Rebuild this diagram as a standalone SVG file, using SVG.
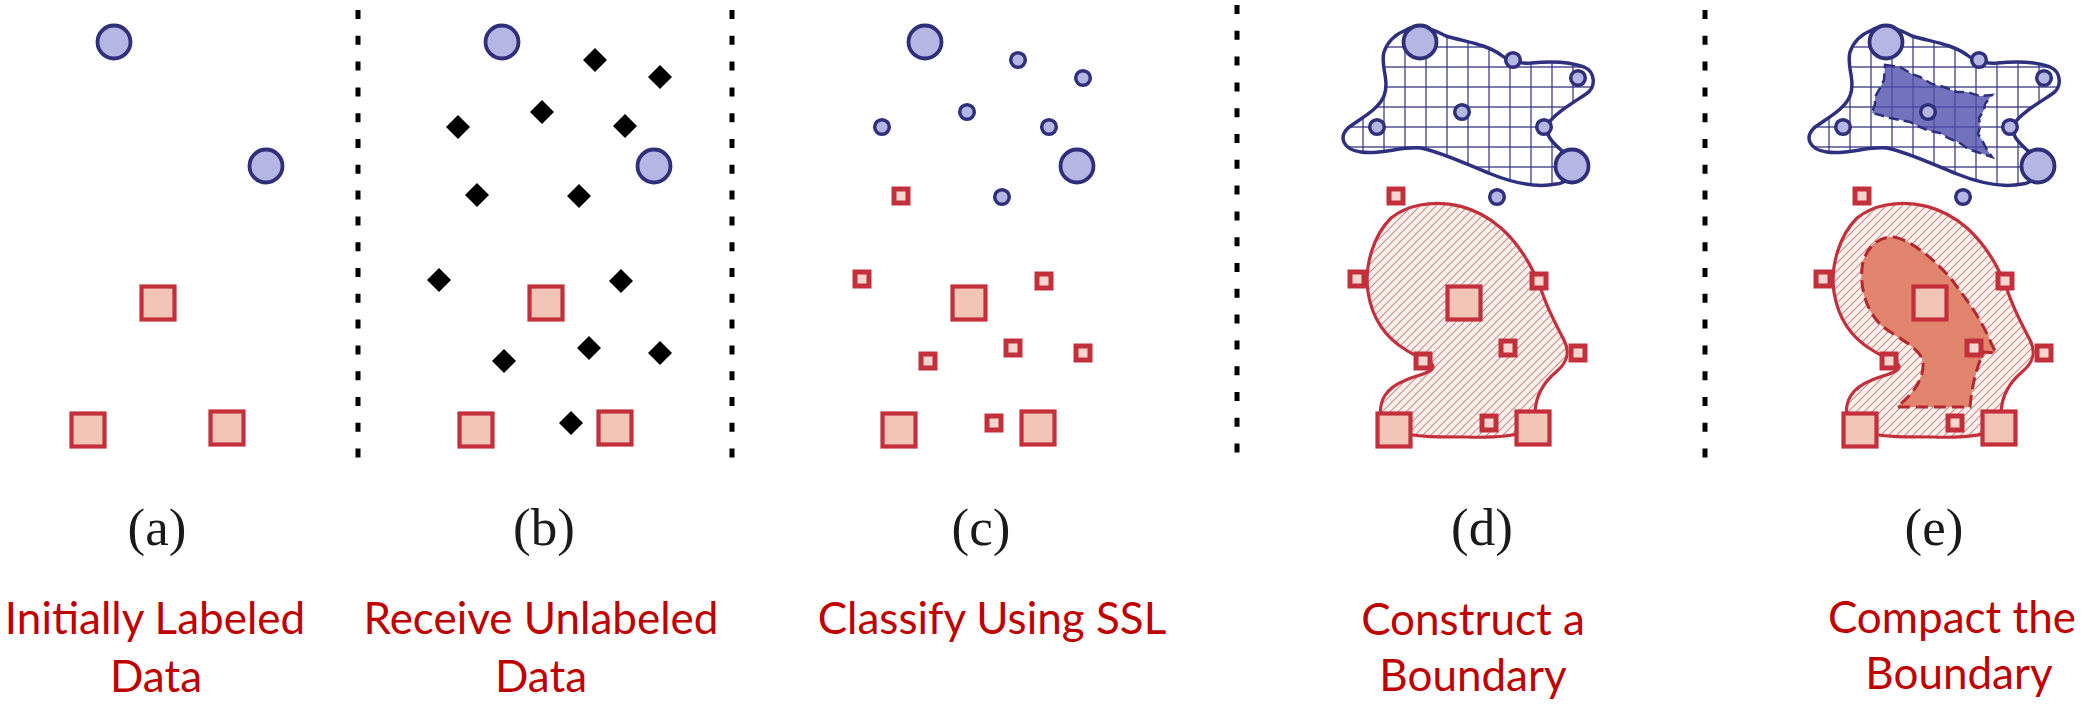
<svg xmlns="http://www.w3.org/2000/svg" xmlns:xlink="http://www.w3.org/1999/xlink" width="2087" height="707" viewBox="0 0 2087 707">
<style>
.bigc{fill:#b6b6e4;stroke:#2f2f7c;stroke-width:3.8}
.smc{fill:#b6b6e4;stroke:#2f2f7c;stroke-width:3.5}
.bigs{fill:#f2c5b7;stroke:#c3303c;stroke-width:4.2}
.sms{fill:#f7d6cf;stroke:#c3303c;stroke-width:5}
.dia{fill:#000}
.sep{stroke:#000;stroke-width:5;stroke-dasharray:9 16.8;fill:none}
.cap{font-family:"Liberation Serif","Times New Roman",serif;font-size:53px;fill:#1a1a1a;text-anchor:middle}
.lbl{font-family:Lato,"Open Sans",sans-serif;font-size:44px;fill:#C00000;text-anchor:middle}
.blueline{fill:none;stroke:#2f2f80;stroke-width:3.5}
.redline{fill:none;stroke:#c3303c;stroke-width:3.2}
</style>
<defs>
<circle id="bc" class="bigc" r="16.5"/>
<circle id="sc" class="smc" r="7.3"/>
<rect id="bs" class="bigs" x="-16.5" y="-16.5" width="33" height="33"/>
<rect id="ss" class="sms" x="-7" y="-7" width="14" height="14"/>
<path id="dm" class="dia" d="M0,-12 L12,0 L0,12 L-12,0Z"/>
<pattern id="grid" patternUnits="userSpaceOnUse" x="14" y="6" width="21" height="20">
<path d="M0,1 H21" stroke="#5a5a98" stroke-width="1.6"/>
<path d="M1,0 V20" stroke="#2f2f80" stroke-width="1.2"/>
</pattern>
<pattern id="hatch" patternUnits="userSpaceOnUse" width="8" height="8">
<path d="M-2,2 L2,-2 M0,8 L8,0 M6,10 L10,6" stroke="#c98c8c" stroke-width="1.1"/>
</pattern>
<path id="blueBlob" d="M100,30 C110,24 125,28 140,36 C160,42 180,44 195,55 C202,61 212,64 225,63 C245,61 265,62 278,67 C290,72 290,88 280,94 C265,104 248,114 242,124 C238,134 246,142 255,150 C268,160 270,182 250,184 C230,188 205,182 185,174 C160,164 135,152 115,148 C95,146 75,155 55,152 C38,150 32,138 42,128 C55,118 72,110 78,96 C84,80 74,66 78,52 C82,40 90,34 100,30 Z"/>
<path id="redBlob" d="M114,205 C140,200 170,206 195,228 C215,246 228,270 236,292 C242,310 250,325 258,340 C264,352 262,362 250,372 C238,382 230,395 229,412 L229,428 C215,436 190,438 160,437 C130,437 110,437 90,432 L75,420 C72,400 80,388 100,380 C115,374 128,372 127,366 C125,360 112,358 100,350 C80,338 66,318 62,292 C58,265 68,235 85,218 C95,210 104,207 114,205 Z"/>
<g id="labeledSet">
<use xlink:href="#bc" x="114" y="42"/>
<use xlink:href="#bc" x="266" y="166"/>
<use xlink:href="#bs" x="158" y="303"/>
<use xlink:href="#bs" x="88" y="430"/>
<use xlink:href="#bs" x="227" y="428"/>
</g>
<g id="classifiedSet">
<use xlink:href="#sc" x="207" y="60"/>
<use xlink:href="#sc" x="272" y="78"/>
<use xlink:href="#sc" x="156" y="112"/>
<use xlink:href="#sc" x="71" y="127"/>
<use xlink:href="#sc" x="238" y="127"/>
<use xlink:href="#sc" x="191" y="197"/>
<use xlink:href="#ss" x="90" y="196"/>
<use xlink:href="#ss" x="51" y="279"/>
<use xlink:href="#ss" x="233" y="281"/>
<use xlink:href="#ss" x="117" y="361"/>
<use xlink:href="#ss" x="202" y="348"/>
<use xlink:href="#ss" x="272" y="353"/>
<use xlink:href="#ss" x="183" y="423"/>
</g>
<g id="boundaries">
<use xlink:href="#blueBlob" fill="#ffffff"/>
<use xlink:href="#blueBlob" fill="url(#grid)"/>
<use xlink:href="#blueBlob" class="blueline"/>
<use xlink:href="#redBlob" fill="#fcf0ed"/>
<use xlink:href="#redBlob" fill="url(#hatch)"/>
<use xlink:href="#redBlob" class="redline"/>
</g>
</defs>

<g id="separators">
<line class="sep" x1="358" y1="10" x2="358" y2="458"/>
<line class="sep" x1="732" y1="10" x2="732" y2="458"/>
<line class="sep" x1="1237" y1="5" x2="1237" y2="453"/>
<line class="sep" x1="1705" y1="10" x2="1705" y2="458"/>
</g>

<g id="panel-a">
<use xlink:href="#labeledSet"/>
</g>

<g id="panel-b" transform="translate(388,0)">
<use xlink:href="#dm" x="207" y="60"/>
<use xlink:href="#dm" x="272" y="77"/>
<use xlink:href="#dm" x="154" y="112"/>
<use xlink:href="#dm" x="70" y="127"/>
<use xlink:href="#dm" x="237" y="126"/>
<use xlink:href="#dm" x="89" y="195"/>
<use xlink:href="#dm" x="191" y="196"/>
<use xlink:href="#dm" x="51" y="280"/>
<use xlink:href="#dm" x="233" y="281"/>
<use xlink:href="#dm" x="201" y="348"/>
<use xlink:href="#dm" x="272" y="353"/>
<use xlink:href="#dm" x="116" y="361"/>
<use xlink:href="#dm" x="183" y="423"/>
<use xlink:href="#labeledSet"/>
</g>

<g id="panel-c" transform="translate(811,0)">
<use xlink:href="#classifiedSet"/>
<use xlink:href="#labeledSet"/>
</g>

<g id="panel-d" transform="translate(1306,0)">
<use xlink:href="#boundaries"/>
<use xlink:href="#classifiedSet"/>
<use xlink:href="#labeledSet"/>
</g>

<g id="panel-e" transform="translate(1772,0)">
<use xlink:href="#boundaries"/>
<path d="M113,65 L128,67 L140,74 L148,77 L160,84 L172,87 L185,92 L195,92 L208,96 L220,95 L213,104 L212,110 L207,118 L208,127 L206,134 L210,140 L214,148 L220,157 L205,152 L196,149 L188,143 L176,138 L168,133 L158,131 L148,127 L138,122 L128,120 L118,118 L108,115 L100,113 L103,104 L103,97 L108,88 L112,80 Z" fill="#4b4baa" fill-opacity="0.78" stroke="#2f2f80" stroke-width="2.5" stroke-dasharray="10 5"/>
<path id="innerRed" d="M122,237 C140,240 165,262 180,280 C195,300 210,320 220,345 L224,353 L212,352 C205,365 200,385 198,407 L125,407 C140,395 152,380 151,363 C150,348 125,338 110,326 C95,312 88,290 90,268 C92,250 105,236 122,237 Z" fill="#e0846e" fill-opacity="0.9"/>
<use xlink:href="#innerRed" fill="url(#hatch)" fill-opacity="1"/>
<use xlink:href="#innerRed" fill="none" stroke="#b3282f" stroke-width="3" stroke-dasharray="12 6"/>
<use xlink:href="#classifiedSet"/>
<use xlink:href="#labeledSet"/>
</g>

<g id="captions">
<text class="cap" x="157" y="545">(a)</text>
<text class="cap" x="544" y="545">(b)</text>
<text class="cap" x="981" y="545">(c)</text>
<text class="cap" x="1482" y="545">(d)</text>
<text class="cap" x="1934" y="545">(e)</text>
</g>

<g id="labels">
<text class="lbl" x="155" y="634">Initially Labeled</text>
<text class="lbl" x="156" y="692">Data</text>
<text class="lbl" x="541" y="634">Receive Unlabeled</text>
<text class="lbl" x="541" y="692">Data</text>
<text class="lbl" x="992" y="634">Classify Using SSL</text>
<text class="lbl" x="1473" y="635">Construct a</text>
<text class="lbl" x="1473" y="691">Boundary</text>
<text class="lbl" x="1952" y="633">Compact the</text>
<text class="lbl" x="1959" y="689">Boundary</text>
</g>
</svg>
